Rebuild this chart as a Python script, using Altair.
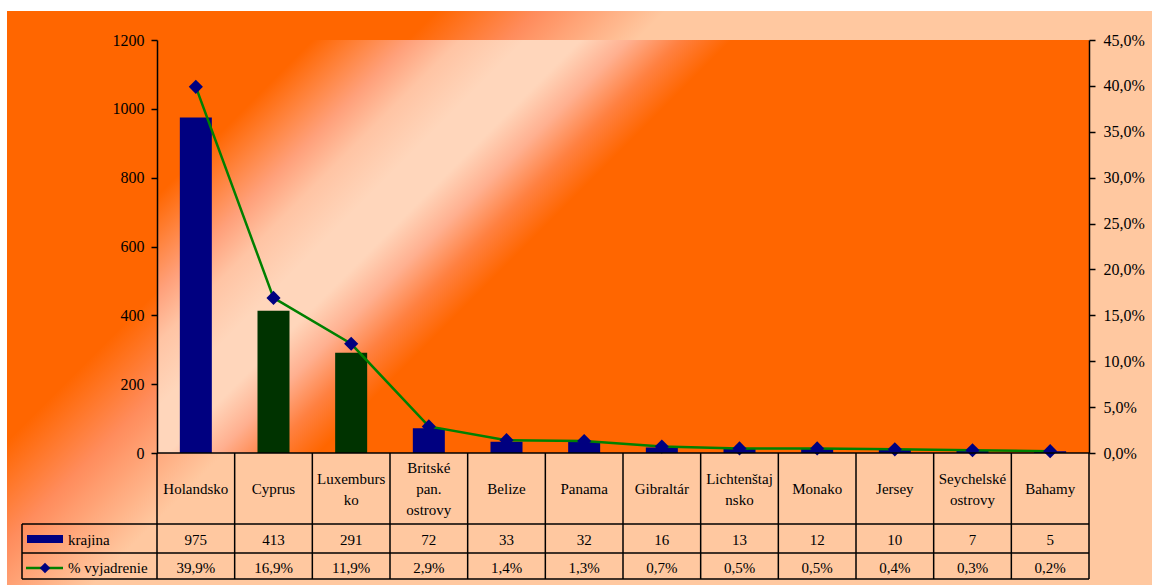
import altair as alt
import pandas as pd

# ---- data ----
countries = ["Holandsko", "Cyprus", "Luxembursko", "Britské pan. ostrovy", "Belize",
             "Panama", "Gibraltár", "Lichtenštajnsko", "Monako", "Jersey",
             "Seychelské ostrovy", "Bahamy"]
table_labels = ["Holandsko", "Cyprus", "Luxemburs\nko", "Britské\npan.\nostrovy", "Belize",
                "Panama", "Gibraltár", "Lichtenštaj\nnsko", "Monako", "Jersey",
                "Seychelské\nostrovy", "Bahamy"]
krajina = [975, 413, 291, 72, 33, 32, 16, 13, 12, 10, 7, 5]
vyjadrenie = [39.9, 16.9, 11.9, 2.9, 1.4, 1.3, 0.7, 0.5, 0.5, 0.4, 0.3, 0.2]
left_ticks = [0, 200, 400, 600, 800, 1000, 1200]
right_ticks = [0, 5, 10, 15, 20, 25, 30, 35, 40, 45]
series_names = ["krajina", "% vyjadrenie"]
highlighted = ["Cyprus", "Luxembursko"]

df = pd.DataFrame({
    "country": countries,
    "label": table_labels,
    "count": krajina,
    "pct": vyjadrenie,
    "count_txt": [str(v) for v in krajina],
    "pct_txt": [f"{v:.1f}".replace(".", ",") + "%" for v in vyjadrenie],
})
one = pd.DataFrame({"k": [0]})

FONT = "'Liberation Serif', 'Times New Roman', 'DejaVu Serif', serif"
ORANGE = "#FF6600"
PEACH = "#FFC8A0"
NAVY = "#000080"
DKGREEN = "#003300"
GREEN = "#008000"

W, H = 932, 413
xscale = alt.Scale(domain=countries, paddingInner=0, paddingOuter=0)


def X(**kw):
    return alt.X("country:N", scale=xscale, axis=None, **kw)


chart_grad = {
    "gradient": "linear", "x1": 0, "y1": 0, "x2": 1, "y2": 0.5,
    "stops": [
        {"offset": 0, "color": ORANGE},
        {"offset": 0.30, "color": ORANGE},
        {"offset": 0.37, "color": "#FF8C5C"},
        {"offset": 0.46, "color": PEACH},
        {"offset": 1, "color": PEACH},
    ],
}
plot_grad = {
    "gradient": "linear", "x1": 0, "y1": 0, "x2": 1, "y2": H / W,
    "stops": [
        {"offset": 0, "color": ORANGE},
        {"offset": 0.14, "color": ORANGE},
        {"offset": 0.227, "color": "#FFA07A"},
        {"offset": 0.272, "color": "#FFC4A4"},
        {"offset": 0.33, "color": "#FFD6BB"},
        {"offset": 0.38, "color": "#FFD6BB"},
        {"offset": 0.424, "color": "#FFB090"},
        {"offset": 0.47, "color": "#FF8040"},
        {"offset": 0.515, "color": ORANGE},
        {"offset": 1, "color": ORANGE},
    ],
}

bg_chart = alt.Chart(one).mark_rect(color=chart_grad).encode(
    x=alt.value(-150), x2=alt.value(W + 63), y=alt.value(-29), y2=alt.value(H + 132)
)
bg_plot = alt.Chart(one).mark_rect(color=plot_grad).encode(
    x=alt.value(0), x2=alt.value(W), y=alt.value(0), y2=alt.value(H)
)

axis_common = dict(title=None, grid=False, labelFont=FONT, labelFontSize=16,
                   labelColor="black", domainColor="black", tickColor="black",
                   domainWidth=1.5, tickWidth=1.5, tickSize=6, zindex=1)

bars = alt.Chart(df).mark_bar(size=32).encode(
    x=X(),
    y=alt.Y("count:Q", scale=alt.Scale(domain=[0, 1200], nice=False),
            axis=alt.Axis(values=left_ticks, orient="left", labelPadding=7, format="d",
                          **axis_common)),
    color=alt.condition(alt.FieldOneOfPredicate(field="country", oneOf=highlighted),
                        alt.value(DKGREEN), alt.value(NAVY)),
)

line = alt.Chart(df).mark_line(
    color=GREEN, strokeWidth=2.5,
    point=alt.OverlayMarkDef(shape="diamond", size=200, color=NAVY, filled=True, opacity=1),
).encode(
    x=X(),
    y=alt.Y("pct:Q", scale=alt.Scale(domain=[0, 45], nice=False),
            axis=alt.Axis(values=right_ticks, orient="right", labelPadding=8,
                          labelExpr="replace(format(datum.value, '.1f'), '.', ',') + '%'",
                          **axis_common)),
)

# ---- data table grid ----
rule_kw = dict(color="black", strokeWidth=1.5)
vlines = alt.Chart(df).mark_rule(**rule_kw).encode(
    x=X(bandPosition=0), y=alt.value(H), y2=alt.value(H + 126)
)
vline_right = alt.Chart(one).mark_rule(**rule_kw).encode(
    x=alt.value(W), y=alt.value(H), y2=alt.value(H + 126)
)
vline_legend = alt.Chart(one).mark_rule(**rule_kw).encode(
    x=alt.value(-135), y=alt.value(H + 71), y2=alt.value(H + 126)
)
hline_top = alt.Chart(one).mark_rule(**rule_kw).encode(
    x=alt.value(0), x2=alt.value(W), y=alt.value(H)
)
hlines = [
    alt.Chart(one).mark_rule(**rule_kw).encode(
        x=alt.value(-135), x2=alt.value(W), y=alt.value(H + dy))
    for dy in (71, 100, 126)
]

txt_kw = dict(font=FONT, fontSize=15, color="black", baseline="middle", align="center")
# category labels: one layer per number of wrapped lines so each block is centred
cat_layers = []
for nlines, top in ((1, 36), (2, 25.5), (3, 15)):
    cat_layers.append(
        alt.Chart(df).transform_calculate(
            nl="length(split(datum.label, '\\n'))"
        ).transform_filter(
            f"datum.nl == {nlines}"
        ).mark_text(lineBreak="\n", lineHeight=21, **txt_kw).encode(
            x=X(), y=alt.value(H + top), text="label:N"
        )
    )
count_text = alt.Chart(df).mark_text(**txt_kw).encode(
    x=X(), y=alt.value(H + 87), text="count_txt:N"
)
pct_text = alt.Chart(df).mark_text(**txt_kw).encode(
    x=X(), y=alt.value(H + 115), text="pct_txt:N"
)

# ---- legend keys inside the table ----
leg_rect = alt.Chart(one).mark_rect(color=NAVY).encode(
    x=alt.value(-130), x2=alt.value(-94), y=alt.value(H + 82), y2=alt.value(H + 90)
)
leg_line = alt.Chart(one).mark_rule(color=GREEN, strokeWidth=2.5).encode(
    x=alt.value(-131), x2=alt.value(-94), y=alt.value(H + 115)
)
leg_pt = alt.Chart(one).mark_point(shape="diamond", size=110, color=NAVY, filled=True,
                                   opacity=1).encode(
    x=alt.value(-112), y=alt.value(H + 115)
)
leg_txt1 = alt.Chart(one).mark_text(font=FONT, fontSize=15, color="black", baseline="middle",
                                    align="left", text=series_names[0]).encode(
    x=alt.value(-89), y=alt.value(H + 87)
)
leg_txt2 = alt.Chart(one).mark_text(font=FONT, fontSize=15, color="black", baseline="middle",
                                    align="left", text=series_names[1]).encode(
    x=alt.value(-89), y=alt.value(H + 115)
)

chart = alt.layer(
    bg_chart, bg_plot, bars, line,
    vlines, vline_right, vline_legend, hline_top, *hlines,
    *cat_layers, count_text, pct_text,
    leg_rect, leg_line, leg_pt, leg_txt1, leg_txt2,
).resolve_scale(y="independent").properties(
    width=W, height=H,
    padding={"left": 157, "top": 40, "right": 63, "bottom": 132},
    autosize=alt.AutoSizeParams(type="none"),
).configure(background="white").configure_view(strokeWidth=0)

chart.save("out.html", embed_options={"renderer": "svg", "actions": False})
